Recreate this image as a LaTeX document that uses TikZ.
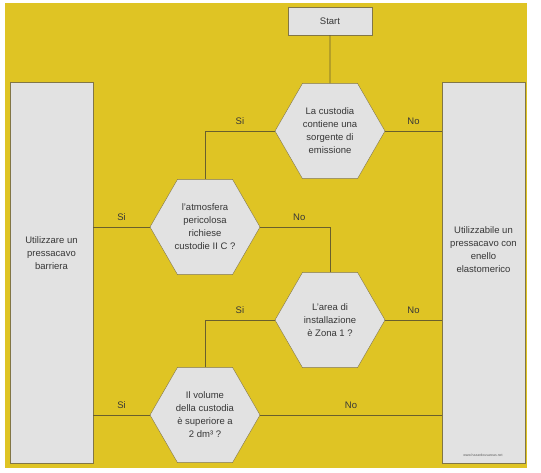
\documentclass[tikz,border=0pt]{standalone}
\usepackage{fontspec}
\setmainfont{Liberation Sans}
\usetikzlibrary{positioning, shapes.geometric}
\definecolor{bgyellow}{RGB}{223,196,36}
\definecolor{boxgrey}{RGB}{226,226,226}
\definecolor{edgegrey}{RGB}{130,118,70}
\definecolor{linegrey}{RGB}{105,95,45}
\definecolor{textgrey}{RGB}{55,55,55}

\begin{document}
\begin{tikzpicture}[
    x=1pt, y=-1pt,
    every node/.style={align=center, text=textgrey, font=\fontsize{9.5}{13}\selectfont},
    startbox/.style={draw=edgegrey, fill=boxgrey, minimum width=84pt, minimum height=28pt},
    decision/.style={draw=edgegrey, fill=boxgrey, regular polygon, regular polygon sides=6, minimum size=110pt, inner sep=1pt},
    outcome/.style={draw=edgegrey, fill=boxgrey, minimum width=83pt, minimum height=381pt},
    link/.style={draw=linegrey, line width=0.8pt},
    answer/.style={above=3pt}
]
    % Background
    \useasboundingbox (0,0) rectangle (541,473);
    \fill[bgyellow] (5,3) rectangle (527,468);

    % Nodes
    \node[startbox] (start) at (330,21) {Start};
    \node[decision, below=48pt of start] (q1) {La custodia\\contiene una\\sorgente di\\emissione};
    \node[decision] (q2) at (205,227) {l'atmosfera\\pericolosa\\richiese\\custodie II C ?};
    \node[decision] (q3) at (330,320) {L'area di\\installazione\\è Zona 1 ?};
    \node[decision] (q4) at (205,415) {Il volume\\della custodia\\è superiore a\\2 dm³ ?};

    \node[outcome] (barrier) at (51.5,272.5) {};
    \node (barriertext) at ([yshift=19pt]barrier.center) {Utilizzare un\\pressacavo\\barriera};
    \node[outcome] (ring) at (483.5,272.5) {};
    \node (ringtext) at ([yshift=23pt]ring.center) {Utilizzabile un\\pressacavo con\\enello\\elastomerico};
    \node[font=\fontsize{3.5}{4}\selectfont, text=textgrey!80] (site) at (483,455) {www.hazardousareas.net};

    % Connectors
    \draw[link] (start) -- (q1);
    \draw[link] (q1.west) -| (q2.north) node[pos=0.25, answer] {Si};
    \draw[link] (q1.east) -- (q1.east -| ring.west) node[midway, answer] {No};
    \draw[link] (q2.west) -- (q2.west -| barrier.east) node[midway, answer] {Si};
    \draw[link] (q2.east) -| (q3.north) node[pos=0.28, answer] {No};
    \draw[link] (q3.east) -- (q3.east -| ring.west) node[midway, answer] {No};
    \draw[link] (q3.west) -| (q4.north) node[pos=0.25, answer] {Si};
    \draw[link] (q4.west) -- (q4.west -| barrier.east) node[midway, answer] {Si};
    \draw[link] (q4.east) -- (q4.east -| ring.west) node[midway, answer] {No};

\end{tikzpicture}
\end{document}
